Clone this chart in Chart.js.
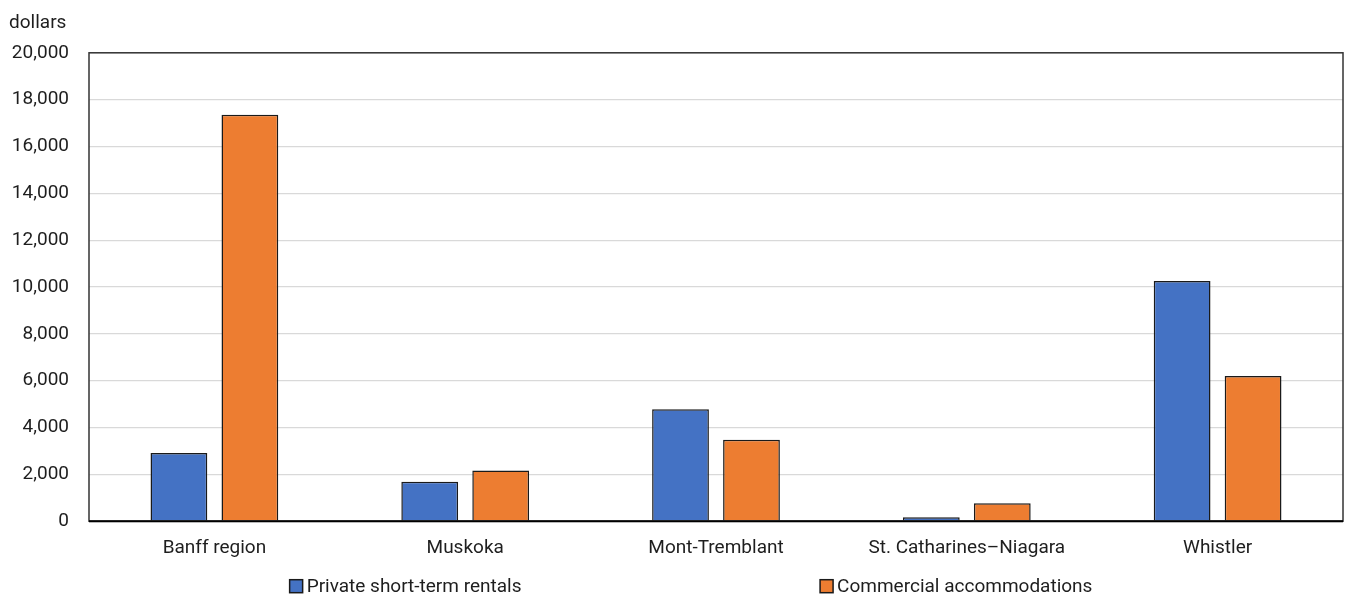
<!DOCTYPE html>
<html>
<head>
<meta charset="utf-8">
<script src="https://cdn.jsdelivr.net/npm/chart.js@4"></script>
<style>
  html, body { margin: 0; padding: 0; background: #ffffff; }
  #wrap { width: 1346px; height: 598px; position: relative; }
</style>
</head>
<body>
<div id="wrap"><canvas id="chart"></canvas></div>
<script>
// Categories and series
const regions = ["Banff region", "Muskoka", "Mont-Tremblant", "St. Catharines\u2013Niagara", "Whistler"];
const privateRentals = [2910, 1680, 4780, 170, 10260];
const commercialAccommodations = [17350, 2160, 3480, 770, 6200];
const seriesNames = ["Private short-term rentals", "Commercial accommodations"];
const unitLabel = "dollars";

const FONT = "Roboto, 'Liberation Sans', sans-serif";
const TEXT = "#1e1e1e";

// Frame around the plotting area, with a darker baseline
const frame = {
  id: "frame",
  afterDraw(chart) {
    const { ctx, chartArea: a } = chart;
    ctx.save();
    ctx.strokeStyle = "#333333";
    ctx.lineWidth = 1.5;
    ctx.strokeRect(a.left, a.top, a.right - a.left, a.bottom - a.top);
    ctx.beginPath();
    ctx.strokeStyle = "#000000";
    ctx.lineWidth = 2;
    ctx.moveTo(a.left, a.bottom);
    ctx.lineTo(a.right, a.bottom);
    ctx.stroke();
    ctx.restore();
  }
};

// Legend row below the category labels, items spread across the plot width
const spreadLegend = {
  id: "spreadLegend",
  afterDraw(chart) {
    const { ctx, chartArea: a } = chart;
    const w = a.right - a.left;
    const starts = [a.left + 0.16 * w, a.left + 0.583 * w];
    const y = a.bottom + 65;
    ctx.save();
    ctx.font = "19px " + FONT;
    ctx.textBaseline = "middle";
    ctx.textAlign = "left";
    chart.data.datasets.forEach((ds, i) => {
      const x = starts[i];
      ctx.fillStyle = ds.backgroundColor;
      ctx.fillRect(x, y - 6.5, 13, 13);
      ctx.strokeStyle = "#1a1a1a";
      ctx.lineWidth = 1.5;
      ctx.strokeRect(x, y - 6.5, 13, 13);
      ctx.fillStyle = TEXT;
      ctx.fillText(ds.label, x + 17, y + 1);
    });
    ctx.restore();
  }
};

new Chart(document.getElementById("chart"), {
  type: "bar",
  data: {
    labels: regions,
    datasets: [
      {
        label: seriesNames[0],
        data: privateRentals,
        backgroundColor: "#4472C4",
        borderColor: "#1a1a1a",
        borderWidth: 1.5
      },
      {
        label: seriesNames[1],
        data: commercialAccommodations,
        backgroundColor: "#ED7D31",
        borderColor: "#1a1a1a",
        borderWidth: 1.5
      }
    ]
  },
  options: {
    responsive: true,
    maintainAspectRatio: false,
    animation: false,
    devicePixelRatio: 1,
    layout: { padding: { left: 9, right: 3, top: 12, bottom: 22 } },
    datasets: {
      bar: { categoryPercentage: 0.566, barPercentage: 0.8 }
    },
    scales: {
      x: {
        grid: { display: false, drawTicks: false },
        border: { display: false },
        ticks: {
          color: TEXT,
          font: { family: FONT, size: 19 },
          padding: 16,
          maxRotation: 0
        }
      },
      y: {
        min: 0,
        max: 20000,
        afterFit(scale) { scale.width = 80; },
        grid: { color: "#d9d9d9", lineWidth: 1.2, drawTicks: false },
        border: { display: false },
        ticks: {
          stepSize: 2000,
          autoSkip: false,
          color: TEXT,
          font: { family: FONT, size: 19 },
          padding: 20,
          callback: v => Number(v).toLocaleString("en-US")
        }
      }
    },
    plugins: {
      title: {
        display: true,
        text: unitLabel,
        align: "start",
        color: TEXT,
        font: { family: FONT, size: 19, weight: "normal" },
        padding: { top: 0, bottom: 18 }
      },
      legend: { display: false },
      tooltip: { enabled: false }
    }
  },
  plugins: [frame, spreadLegend]
});
</script>
</body>
</html>
